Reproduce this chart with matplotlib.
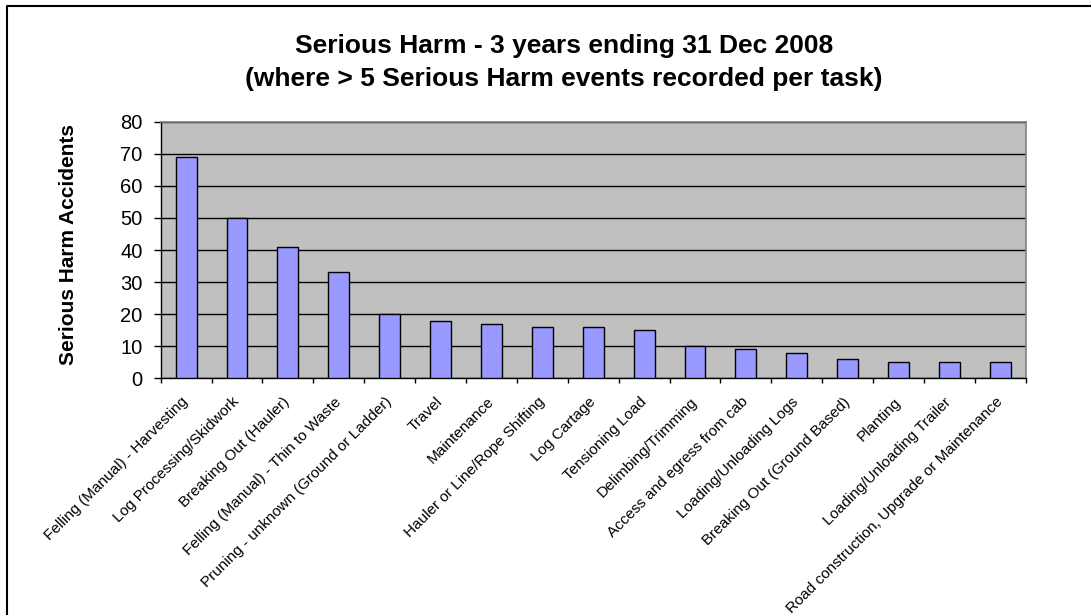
import matplotlib
matplotlib.use("Agg")
import matplotlib.pyplot as plt
from matplotlib.lines import Line2D
import matplotlib.transforms as mtransforms
import numpy as np

categories = [
    "Felling (Manual) - Harvesting",
    "Log Processing/Skidwork",
    "Breaking Out (Hauler)",
    "Felling (Manual) - Thin to Waste",
    "Pruning - unknown (Ground or Ladder)",
    "Travel",
    "Maintenance",
    "Hauler or Line/Rope Shifting",
    "Log Cartage",
    "Tensioning Load",
    "Delimbing/Trimming",
    "Access and egress from cab",
    "Loading/Unloading Logs",
    "Breaking Out (Ground Based)",
    "Planting",
    "Loading/Unloading Trailer",
    "Road construction, Upgrade or Maintenance",
]
values = [69, 50, 41, 33, 20, 18, 17, 16, 16, 15, 10, 9, 8, 6, 5, 5, 5]
y_ticks = [0, 10, 20, 30, 40, 50, 60, 70, 80]

plt.rcParams['font.family'] = ['Liberation Sans', 'DejaVu Sans']

W, H = 1091, 615
fig = plt.figure(figsize=(W / 100, H / 100), dpi=100)
fig.patch.set_facecolor('white')

# outer chart border (left and top visible)
fig.lines.append(Line2D([7 / W, 7 / W, 1.0], [0.0, 1 - 6 / H, 1 - 6 / H],
                        transform=fig.transFigure, color='black', linewidth=1.5))

left, right, top, bottom = 160.7, 1025.7, 121.7, 378.3
ax = fig.add_axes([left / W, 1 - bottom / H, (right - left) / W, (bottom - top) / H])
ax.set_facecolor('#C0C0C0')

x = np.arange(len(categories))
ax.bar(x, values, width=0.41, color='#9999FF', edgecolor='black', linewidth=1.0, zorder=3)

ax.set_xlim(-0.5, len(categories) - 0.5)
ax.set_ylim(0, 80)
ax.set_yticks(y_ticks)
ax.set_yticklabels([str(v) for v in y_ticks], fontsize=14.5)
ax.yaxis.grid(True, color='black', linewidth=1.0, zorder=1)
ax.set_axisbelow(True)

ax.set_xticks(np.arange(len(categories) + 1) - 0.5)
ax.set_xticklabels([])
ax.set_xticks(x, minor=True)
ax.set_xticklabels(categories, minor=True, rotation=45, ha='right', va='top',
                   rotation_mode='anchor', fontsize=11)
ax.tick_params(axis='x', which='minor', length=0, pad=9)
ax.tick_params(axis='x', which='major', length=3.5, direction='out', color='black', width=1)
ax.tick_params(axis='y', length=5, direction='out', color='black', width=1, pad=8)

shift = mtransforms.ScaledTranslation(-0.05, -0.04, fig.dpi_scale_trans)
for lbl in ax.get_xticklabels(minor=True):
    lbl.set_transform(lbl.get_transform() + shift)

for s in ['top', 'right']:
    ax.spines[s].set_color('#808080')
    ax.spines[s].set_linewidth(1.2)
for s in ['left', 'bottom']:
    ax.spines[s].set_color('black')
    ax.spines[s].set_linewidth(1.0)

ax.set_ylabel('Serious Harm Accidents', fontsize=15, fontweight='bold', va='center')
ax.yaxis.set_label_coords((68 - left) / (right - left), 0.52)

fig.text(564 / W, 1 - 53 / H, 'Serious Harm - 3 years ending 31 Dec 2008',
         ha='center', va='baseline', fontsize=19, fontweight='bold')
fig.text(564 / W, 1 - 86 / H, '(where > 5 Serious Harm events recorded per task)',
         ha='center', va='baseline', fontsize=19, fontweight='bold')

fig.savefig('out.png', dpi=100)
